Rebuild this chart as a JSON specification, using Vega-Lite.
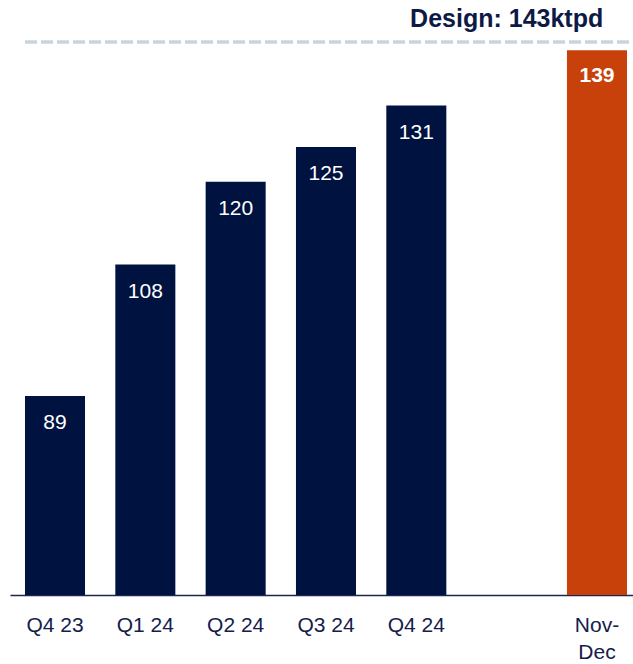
{
  "$schema": "https://vega.github.io/schema/vega-lite/v6.json",
  "width": 623,
  "height": 553,
  "autosize": {"type": "none"},
  "padding": {"left": 10, "top": 42, "right": 0, "bottom": 69},
  "background": "white",
  "config": {
    "view": {"stroke": null},
    "font": "Liberation Sans",
    "axisX": {
      "domainColor": "#1c2651",
      "domainWidth": 1.5,
      "ticks": false,
      "grid": false,
      "labelFontSize": 21,
      "labelColor": "#14204a",
      "labelPadding": 19,
      "labelLineHeight": 27,
      "labelAngle": 0,
      "labelFont": "Liberation Sans",
      "labelExpr": "datum.value == 'Nov-Dec' ? ['Nov-', 'Dec'] : datum.label"
    }
  },
  "data": {
    "values": [
      {"period": "Q4 23", "value": 89, "type": "quarter"},
      {"period": "Q1 24", "value": 108, "type": "quarter"},
      {"period": "Q2 24", "value": 120, "type": "quarter"},
      {"period": "Q3 24", "value": 125, "type": "quarter"},
      {"period": "Q4 24", "value": 131, "type": "quarter"},
      {"period": "Nov-Dec", "value": 139, "type": "recent"}
    ]
  },
  "layer": [
    {
      "layer": [
        {
          "mark": {"type": "bar", "clip": true},
          "encoding": {
            "x": {
              "field": "period",
              "type": "nominal",
              "title": null,
              "sort": null,
              "scale": {
                "domain": ["Q4 23", "Q1 24", "Q2 24", "Q3 24", "Q4 24", " ", "Nov-Dec"],
                "paddingInner": 0.3355,
                "paddingOuter": 0.1162,
                "align": 0.714
              }
            },
            "y": {
              "field": "value",
              "type": "quantitative",
              "scale": {"domain": [60.2, 140.2], "zero": false, "nice": false},
              "axis": null
            },
            "color": {
              "field": "type",
              "type": "nominal",
              "scale": {"domain": ["quarter", "recent"], "range": ["#001240", "#c8410b"]},
              "legend": null
            }
          }
        },
        {
          "transform": [{"filter": "datum.type == 'quarter'"}],
          "mark": {"type": "text", "color": "white", "fontSize": 21, "baseline": "middle", "dy": 27, "font": "Liberation Sans"},
          "encoding": {
            "x": {"field": "period", "type": "nominal", "title": null, "sort": null},
            "y": {"field": "value", "type": "quantitative", "scale": {"domain": [60.2, 140.2], "zero": false, "nice": false}, "axis": null},
            "text": {"field": "value", "type": "quantitative"}
          }
        },
        {
          "transform": [{"filter": "datum.type == 'recent'"}],
          "mark": {"type": "text", "color": "white", "fontSize": 21, "fontWeight": "bold", "baseline": "middle", "dy": 26, "font": "Liberation Sans"},
          "encoding": {
            "x": {"field": "period", "type": "nominal", "title": null, "sort": null},
            "y": {"field": "value", "type": "quantitative", "scale": {"domain": [60.2, 140.2], "zero": false, "nice": false}, "axis": null},
            "text": {"field": "value", "type": "quantitative"}
          }
        }
      ]
    },
    {
      "data": {"values": [{"design": 143, "start": "Q4 23", "gap": " ", "label": "Design: 143ktpd"}]},
      "layer": [
        {
          "mark": {"type": "rule", "color": "#c9d3de", "strokeWidth": 3.5, "strokeDash": [12, 4]},
          "encoding": {
            "x": {"field": "start", "type": "nominal", "title": null, "bandPosition": 0},
            "x2": {"value": "width"},
            "y": {"field": "design", "type": "quantitative", "scale": {"domain": [60, 143], "zero": false, "nice": false}, "axis": null}
          }
        },
        {
          "mark": {"type": "text", "color": "#0d1a45", "fontSize": 25, "fontWeight": "bold", "align": "center", "baseline": "alphabetic", "dy": -15, "font": "Liberation Sans"},
          "encoding": {
            "x": {"field": "gap", "type": "nominal", "title": null},
            "y": {"field": "design", "type": "quantitative", "scale": {"domain": [60, 143], "zero": false, "nice": false}, "axis": null},
            "text": {"field": "label", "type": "nominal"}
          }
        }
      ],
      "resolve": {"scale": {"y": "shared"}}
    }
  ],
  "resolve": {"scale": {"y": "independent"}}
}
